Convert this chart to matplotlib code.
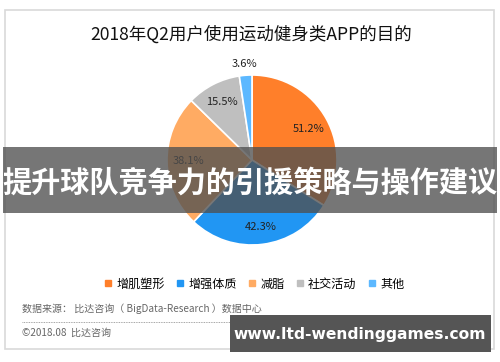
import numpy as np
import matplotlib.pyplot as plt
from matplotlib.patches import Rectangle
from matplotlib.lines import Line2D

plt.rcParams['font.family'] = ['Noto Sans CJK SC', 'DejaVu Sans']

title = '2018年Q2用户使用运动健身类APP的目的'
categories = ['增肌塑形', '增强体质', '减脂', '社交活动', '其他']
values = [51.2, 42.3, 38.1, 15.5, 3.6]
colors = ['#FF7F2A', '#2196F3', '#FFAB63', '#BFBFBF', '#5CB8FF']
label_r = [0.76, 0.79, 0.75, 0.77, 1.13]

W, H = 500, 362
fig = plt.figure(figsize=(5, 3.62), dpi=100)
fig.patch.set_facecolor('white')

def fx(x):
    return x / W

def fy(y):
    return 1 - y / H

# outer frame
fig.patches.append(Rectangle((fx(5), fy(349)), fx(489), 339 / H, transform=fig.transFigure,
                             fill=False, edgecolor='#d9d9d9', linewidth=1.2))

fig.text(fx(251), fy(35), title, ha='center', va='center', fontsize=12.6, color='#111111')

# pie
ax = fig.add_axes([fx(152), fy(260), fx(200), 200 / H])
wedges, _ = ax.pie(values, colors=colors, startangle=90, counterclock=False,
                   radius=0.85, wedgeprops=dict(edgecolor='white', linewidth=1.2))
ax.set_xlim(-1, 1)
ax.set_ylim(-1, 1)
ax.axis('off')
for w, v, r in zip(wedges, values, label_r):
    ang = np.deg2rad((w.theta1 + w.theta2) / 2)
    ax.text(0.85 * r * np.cos(ang), 0.85 * r * np.sin(ang), f'{v}%',
            ha='center', va='center', fontsize=8, color='#222222')

# legend
handles = [Line2D([], [], marker='s', linestyle='', markersize=5, color=c) for c in colors]
fig.legend(handles, categories, loc='center', bbox_to_anchor=(fx(254), fy(284)), ncol=5,
           frameon=False, fontsize=8.7, handletextpad=0.25, columnspacing=0.9,
           handlelength=0.8)

fig.text(fx(22), fy(309), '数据来源： 比达咨询（ BigData-Research ）数据中心', ha='left', va='center',
         fontsize=7.2, color='#666666')
fig.lines.append(Line2D([fx(22), fx(480)], [fy(322), fy(322)], transform=fig.transFigure,
                        color='#888888', linestyle=(0, (1, 1)), linewidth=0.6))
fig.text(fx(22), fy(333), '©2018.08  比达咨询', ha='left', va='center', fontsize=7.2, color='#666666')

# overlay banner
fig.patches.append(Rectangle((fx(3), fy(213)), fx(494), 66 / H, transform=fig.transFigure,
                             facecolor='#505050', alpha=0.78, edgecolor='none', zorder=5))
fig.text(fx(250), fy(182), '提升球队竞争力的引援策略与操作建议', ha='center', va='center',
         fontsize=21, fontweight='bold', color='white', zorder=6)

# watermark box
fig.patches.append(Rectangle((fx(230), fy(352)), fx(261), 37 / H, transform=fig.transFigure,
                             facecolor='#555555', edgecolor='none', zorder=5))
fig.text(fx(360), fy(334), 'www.ltd-wendinggames.com', ha='center', va='center',
         fontsize=11.2, fontweight='bold', color='white', family='DejaVu Sans', zorder=6)

fig.savefig('out.png', dpi=100)
